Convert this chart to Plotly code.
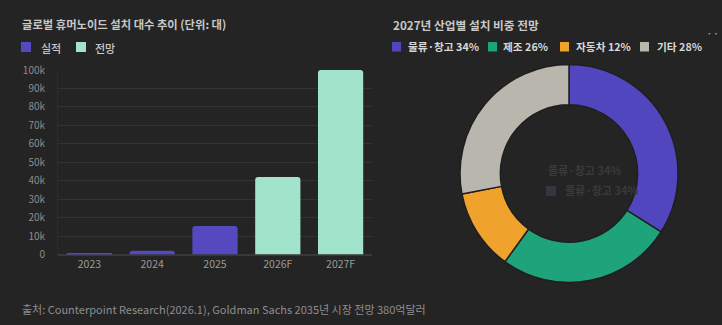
import plotly.graph_objects as go

W, H = 722, 325
BG = "#242424"
FONT = "Noto Sans CJK KR"

# Yearly installations
years = ["2023", "2024", "2025", "2026F", "2027F"]
actual = [400, 2000, 15500, None, None]
forecast = [None, None, None, 42000, 100000]
series_names = ["실적", "전망"]
series_colors = ["#5549bf", "#a1e3cb"]
y_ticks = [0, 10000, 20000, 30000, 40000, 50000, 60000, 70000, 80000, 90000, 100000]

# 2027 share by industry
sectors = ["물류·창고", "제조", "자동차", "기타"]
shares = [34, 26, 12, 28]
sector_colors = ["#5246be", "#1ea37a", "#efa22c", "#b9b6ae"]


def px_x(x):
    return x / W


def px_y(y):
    return 1 - y / H


def note(text, x, y, size, color, weight=400, anchor="left"):
    return dict(text=text, x=px_x(x), y=px_y(y), xref="paper", yref="paper",
                xanchor=anchor, yanchor="middle", showarrow=False,
                font=dict(family=FONT, size=size, color=color, weight=weight))


def box(x0, y0, x1, y1, color):
    return dict(type="rect", xref="paper", yref="paper",
                x0=px_x(x0), x1=px_x(x1), y0=px_y(y1), y1=px_y(y0),
                fillcolor=color, line=dict(width=0))


fig = go.Figure()

fig.add_trace(go.Bar(x=years, y=actual, name=series_names[0],
                     marker=dict(color=series_colors[0], line=dict(width=0)), showlegend=False))
fig.add_trace(go.Bar(x=years, y=forecast, name=series_names[1],
                     marker=dict(color=series_colors[1], line=dict(width=0)), showlegend=False))

fig.add_trace(go.Pie(
    labels=sectors, values=shares, sort=False, direction="clockwise", rotation=0,
    hole=0.63, textinfo="none", showlegend=False,
    marker=dict(colors=sector_colors, line=dict(color="#1f1f1f", width=1.5)),
    domain=dict(x=[px_x(460), px_x(678)], y=[px_y(283), px_y(64)]),
))

shapes = []
annotations = []

# Titles
annotations.append(note("글로벌 휴머노이드 설치 대수 추이 (단위: 대)", 20, 24, 11.3, "#c8c8c8", 600))
annotations.append(note("2027년 산업별 설치 비중 전망", 391, 24, 11.7, "#c8c8c8", 600))

# Bar legend
for (sx, tx), name, col in zip([(21, 39), (76, 93)], series_names, series_colors):
    shapes.append(box(sx, 42, sx + 10, 52, col))
    annotations.append(note(name, tx, 47.5, 11, "#c8c8c8", 500))

# Pie legend
for (sx, tx), name, val, col in zip([(392, 406), (488, 501), (560, 574), (640, 655)],
                                    sectors, shares, sector_colors):
    shapes.append(box(sx, 42, sx + 9, 51.5, col))
    annotations.append(note(f"{name} {val}%", tx, 47, 10.7, "#d8d8d8", 600))

# Faded hover label in the donut hole
ghost = "#3a3a3a"
annotations.append(note(f"{sectors[0]} {shares[0]}%", 546, 170, 11, ghost, 600))
shapes.append(box(546, 186, 556, 196, "#353540"))
annotations.append(note(f"{sectors[0]} {shares[0]}%", 563, 190, 11, ghost, 600))

# Menu dots
annotations.append(note("··", 721, 32, 12, "#aaaaaa", anchor="right"))

# Source note
annotations.append(note("출처: Counterpoint Research(2026.1), Goldman Sachs 2035년 시장 전망 380억달러",
                        20, 309, 11, "#8e8e8e"))

fig.update_layout(
    width=W, height=H,
    margin=dict(l=0, r=0, t=0, b=0),
    paper_bgcolor=BG, plot_bgcolor=BG,
    barmode="overlay", bargap=0.28, barcornerradius=3,
    shapes=shapes, annotations=annotations,
    xaxis=dict(domain=[px_x(58), px_x(372)], type="category", showgrid=False,
               showline=False, zeroline=False, ticks="", automargin=False,
               tickfont=dict(family=FONT, size=10.5, color="#9a9a9a"), ticklabelstandoff=2),
    yaxis=dict(domain=[px_y(254.5), px_y(70)], range=[0, 100000], tickvals=y_ticks,
               tickformat="~s", showgrid=True, gridcolor="#333333", gridwidth=1,
               zeroline=True, zerolinecolor="#383838", showline=True, linecolor="#2c2c2c",
               ticks="", automargin=False, tickfont=dict(family=FONT, size=10, color="#8c8c8c"),
               ticklabelstandoff=10),
    hovermode=False,
)

fig.write_html("out.html")
